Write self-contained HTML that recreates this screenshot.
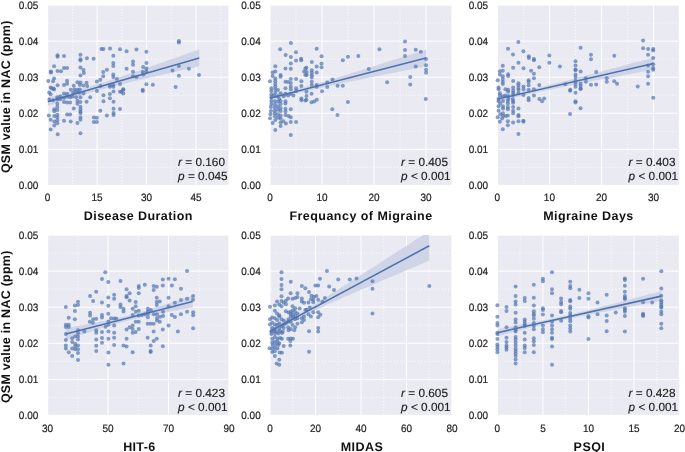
<!DOCTYPE html>
<html><head><meta charset="utf-8"><style>
html,body{margin:0;padding:0;background:#fff;width:685px;height:452px;overflow:hidden}
svg{display:block;text-rendering:geometricPrecision;will-change:transform}
.t{font-family:"Liberation Sans",sans-serif;font-size:10.0px;fill:#222;stroke:#222;stroke-width:0.18px}
.a{font-family:"Liberation Sans",sans-serif;font-size:11.8px;fill:#222;stroke:#222;stroke-width:0.15px}
.l{font-family:"Liberation Sans",sans-serif;font-size:12.5px;font-weight:bold;fill:#111}
</style></head><body>
<svg width="685" height="452" viewBox="0 0 685 452"><defs><clipPath id="c0"><rect x="47.6" y="5" width="181.4" height="180.5"/></clipPath><clipPath id="c1"><rect x="270" y="5" width="182" height="180.5"/></clipPath><clipPath id="c2"><rect x="497.4" y="5" width="182.1" height="180.5"/></clipPath><clipPath id="c3"><rect x="47.6" y="235" width="181.4" height="180.5"/></clipPath><clipPath id="c4"><rect x="270" y="235" width="182" height="180.5"/></clipPath><clipPath id="c5"><rect x="497.4" y="235" width="182.1" height="180.5"/></clipPath></defs><rect x="48.2" y="5.6" width="180.2" height="179.3" fill="#EAEAF2"/><path d="M72.34 6V184.5 M121.81 6V184.5 M171.28 6V184.5 M220.75 6V184.5 M48.6 167.45H228 M48.6 131.35H228 M48.6 95.25H228 M48.6 59.15H228 M48.6 23.05H228" stroke="#fff" stroke-width="0.8" stroke-dasharray="1 2" fill="none"/><path d="M97.07 5.6V184.9 M146.55 5.6V184.9 M196.02 5.6V184.9 M48.2 149.4H228.4 M48.2 113.3H228.4 M48.2 77.2H228.4 M48.2 41.1H228.4" stroke="#fff" stroke-width="1" fill="none"/><path d="M47.6 97.55 L51.39 96.63 L55.19 95.69 L58.98 94.74 L62.77 93.78 L66.56 92.81 L70.36 91.81 L74.15 90.8 L77.94 89.77 L81.74 88.72 L85.53 87.64 L89.32 86.54 L93.11 85.42 L96.91 84.28 L100.7 83.12 L104.49 81.93 L108.29 80.73 L112.08 79.51 L115.87 78.28 L119.67 77.03 L123.46 75.77 L127.25 74.5 L131.04 73.22 L134.84 71.93 L138.63 70.64 L142.42 69.34 L146.22 68.03 L150.01 66.72 L153.8 65.4 L157.59 64.08 L161.39 62.76 L165.18 61.43 L168.97 60.1 L172.77 58.77 L176.56 57.44 L180.35 56.1 L184.14 54.76 L187.94 53.42 L191.73 52.08 L195.52 50.74 L199.32 49.4 L199.32 66.38 L195.52 67.23 L191.73 68.08 L187.94 68.93 L184.14 69.78 L180.35 70.64 L176.56 71.49 L172.77 72.35 L168.97 73.21 L165.18 74.08 L161.39 74.94 L157.59 75.81 L153.8 76.69 L150.01 77.56 L146.22 78.44 L142.42 79.33 L138.63 80.22 L134.84 81.12 L131.04 82.03 L127.25 82.94 L123.46 83.86 L119.67 84.8 L115.87 85.74 L112.08 86.7 L108.29 87.68 L104.49 88.67 L100.7 89.68 L96.91 90.71 L93.11 91.76 L89.32 92.83 L85.53 93.92 L81.74 95.04 L77.94 96.18 L74.15 97.34 L70.36 98.52 L66.56 99.72 L62.77 100.94 L58.98 102.17 L55.19 103.42 L51.39 104.68 L47.6 105.94Z" fill="#EAEAF2" clip-path="url(#c0)"/><g fill="#4C72B0" fill-opacity="0.68"><circle cx="57.59" cy="55.22" r="2"/><circle cx="57.59" cy="56.66" r="2"/><circle cx="64.03" cy="56.05" r="2"/><circle cx="80.46" cy="54.71" r="2"/><circle cx="80.46" cy="59.33" r="2"/><circle cx="80.46" cy="60.56" r="2"/><circle cx="86.91" cy="58.36" r="2"/><circle cx="93.6" cy="58.72" r="2"/><circle cx="101.51" cy="49.01" r="2"/><circle cx="54.06" cy="66.15" r="2"/><circle cx="50.89" cy="71.5" r="2"/><circle cx="50.89" cy="72.47" r="2"/><circle cx="57.59" cy="71.03" r="2"/><circle cx="60.99" cy="71.24" r="2"/><circle cx="64.03" cy="67.96" r="2"/><circle cx="67.08" cy="67.96" r="2"/><circle cx="80.46" cy="67.6" r="2"/><circle cx="83.5" cy="70.05" r="2"/><circle cx="83.87" cy="72.98" r="2"/><circle cx="80.46" cy="75.39" r="2"/><circle cx="54.06" cy="78.57" r="2"/><circle cx="53.08" cy="81.24" r="2"/><circle cx="48.22" cy="80.99" r="2"/><circle cx="67.08" cy="80.63" r="2"/><circle cx="77.42" cy="82.22" r="2"/><circle cx="80.46" cy="82.47" r="2"/><circle cx="86.54" cy="82.69" r="2"/><circle cx="96.89" cy="81.5" r="2"/><circle cx="100.3" cy="79.76" r="2"/><circle cx="57.59" cy="85.14" r="2"/><circle cx="64.03" cy="84.89" r="2"/><circle cx="67.08" cy="83.66" r="2"/><circle cx="50.65" cy="87.56" r="2"/><circle cx="53.69" cy="88.54" r="2"/><circle cx="73.77" cy="85.86" r="2"/><circle cx="79.85" cy="84.89" r="2"/><circle cx="83.5" cy="85.5" r="2"/><circle cx="87.16" cy="86.12" r="2"/><circle cx="100.54" cy="86.12" r="2"/><circle cx="103.46" cy="49.01" r="2"/><circle cx="110.03" cy="48.39" r="2"/><circle cx="120.01" cy="49.22" r="2"/><circle cx="126.58" cy="51.17" r="2"/><circle cx="136.44" cy="49.62" r="2"/><circle cx="146.41" cy="51.79" r="2"/><circle cx="113.32" cy="55.68" r="2"/><circle cx="133.03" cy="61.53" r="2"/><circle cx="133.03" cy="64.82" r="2"/><circle cx="113.32" cy="62.98" r="2"/><circle cx="113.32" cy="66.05" r="2"/><circle cx="146.41" cy="62.98" r="2"/><circle cx="106.87" cy="69.69" r="2"/><circle cx="126.58" cy="68.82" r="2"/><circle cx="143.13" cy="67.02" r="2"/><circle cx="146.41" cy="68.46" r="2"/><circle cx="103.22" cy="72.11" r="2"/><circle cx="103.22" cy="76.37" r="2"/><circle cx="113.32" cy="74.53" r="2"/><circle cx="113.32" cy="76.98" r="2"/><circle cx="133.03" cy="71.75" r="2"/><circle cx="142.76" cy="72.11" r="2"/><circle cx="146.41" cy="71.5" r="2"/><circle cx="116.85" cy="79.04" r="2"/><circle cx="133.03" cy="76.37" r="2"/><circle cx="136.44" cy="76.98" r="2"/><circle cx="143.37" cy="74.53" r="2"/><circle cx="120.01" cy="83.91" r="2"/><circle cx="109.91" cy="84.89" r="2"/><circle cx="109.91" cy="86.73" r="2"/><circle cx="113.32" cy="84.89" r="2"/><circle cx="113.32" cy="86.73" r="2"/><circle cx="146.41" cy="84.28" r="2"/><circle cx="152.86" cy="84.64" r="2"/><circle cx="123.29" cy="89.15" r="2"/><circle cx="142.76" cy="89.76" r="2"/><circle cx="178.9" cy="41.1" r="2"/><circle cx="178.9" cy="42.54" r="2"/><circle cx="178.9" cy="66.05" r="2"/><circle cx="172.57" cy="70.52" r="2"/><circle cx="188.88" cy="68.82" r="2"/><circle cx="178.9" cy="75.76" r="2"/><circle cx="198.98" cy="74.93" r="2"/><circle cx="175.62" cy="86.95" r="2"/><circle cx="49.19" cy="92.61" r="2"/><circle cx="50.65" cy="94.31" r="2"/><circle cx="54.06" cy="89.47" r="2"/><circle cx="51.87" cy="88.61" r="2"/><circle cx="64.03" cy="93.48" r="2"/><circle cx="67.08" cy="93.84" r="2"/><circle cx="70.73" cy="89.84" r="2"/><circle cx="74.38" cy="89.47" r="2"/><circle cx="77.42" cy="89.84" r="2"/><circle cx="79.85" cy="89.47" r="2"/><circle cx="73.16" cy="92.87" r="2"/><circle cx="76.21" cy="92.25" r="2"/><circle cx="79.25" cy="92.87" r="2"/><circle cx="83.5" cy="93.48" r="2"/><circle cx="96.89" cy="91.03" r="2"/><circle cx="57.34" cy="97.13" r="2"/><circle cx="60.38" cy="96.51" r="2"/><circle cx="64.03" cy="97.74" r="2"/><circle cx="67.08" cy="96.51" r="2"/><circle cx="70.12" cy="97.13" r="2"/><circle cx="72.55" cy="96.51" r="2"/><circle cx="76.21" cy="97.13" r="2"/><circle cx="80.46" cy="97.13" r="2"/><circle cx="90.2" cy="97.13" r="2"/><circle cx="49.43" cy="99.55" r="2"/><circle cx="53.08" cy="100.16" r="2"/><circle cx="57.34" cy="99.55" r="2"/><circle cx="60.38" cy="98.97" r="2"/><circle cx="64.03" cy="102" r="2"/><circle cx="67.08" cy="102.61" r="2"/><circle cx="70.12" cy="102.61" r="2"/><circle cx="77.42" cy="100.77" r="2"/><circle cx="77.42" cy="103.81" r="2"/><circle cx="80.46" cy="102" r="2"/><circle cx="86.54" cy="101.64" r="2"/><circle cx="57.34" cy="103.81" r="2"/><circle cx="57.34" cy="106.87" r="2"/><circle cx="54.3" cy="109.29" r="2"/><circle cx="54.3" cy="111.13" r="2"/><circle cx="57.34" cy="109.91" r="2"/><circle cx="73.77" cy="108.43" r="2"/><circle cx="80.46" cy="106.87" r="2"/><circle cx="80.46" cy="109.29" r="2"/><circle cx="80.46" cy="111.71" r="2"/><circle cx="80.46" cy="112.94" r="2"/><circle cx="100.3" cy="110.74" r="2"/><circle cx="67.08" cy="114.53" r="2"/><circle cx="70.12" cy="114.53" r="2"/><circle cx="48.82" cy="115.39" r="2"/><circle cx="54.3" cy="115.97" r="2"/><circle cx="57.34" cy="114.78" r="2"/><circle cx="57.34" cy="117.2" r="2"/><circle cx="80.46" cy="117.2" r="2"/><circle cx="80.46" cy="119.65" r="2"/><circle cx="93.85" cy="117.45" r="2"/><circle cx="96.89" cy="117.81" r="2"/><circle cx="50.65" cy="119.87" r="2"/><circle cx="54.3" cy="121.46" r="2"/><circle cx="57.34" cy="120.23" r="2"/><circle cx="57.34" cy="123.3" r="2"/><circle cx="64.03" cy="120.63" r="2"/><circle cx="70.73" cy="121.46" r="2"/><circle cx="77.42" cy="122.94" r="2"/><circle cx="93.85" cy="122.07" r="2"/><circle cx="96.89" cy="122.07" r="2"/><circle cx="54.3" cy="125.47" r="2"/><circle cx="50.65" cy="129.62" r="2"/><circle cx="57.71" cy="134.24" r="2"/><circle cx="80.46" cy="133.26" r="2"/><circle cx="113.56" cy="91.42" r="2"/><circle cx="120.01" cy="91.64" r="2"/><circle cx="123.29" cy="89.84" r="2"/><circle cx="123.29" cy="93.48" r="2"/><circle cx="121.47" cy="91.64" r="2"/><circle cx="103.46" cy="95.29" r="2"/><circle cx="109.91" cy="94.09" r="2"/><circle cx="109.91" cy="98.35" r="2"/><circle cx="103.46" cy="101.13" r="2"/><circle cx="113.56" cy="101.64" r="2"/><circle cx="142.76" cy="91.03" r="2"/><circle cx="113.56" cy="108.68" r="2"/><circle cx="120.01" cy="108.93" r="2"/><circle cx="113.56" cy="112.94" r="2"/><circle cx="113.56" cy="115" r="2"/><circle cx="106.87" cy="115.39" r="2"/></g><path d="M47.6 97.55 L51.39 96.63 L55.19 95.69 L58.98 94.74 L62.77 93.78 L66.56 92.81 L70.36 91.81 L74.15 90.8 L77.94 89.77 L81.74 88.72 L85.53 87.64 L89.32 86.54 L93.11 85.42 L96.91 84.28 L100.7 83.12 L104.49 81.93 L108.29 80.73 L112.08 79.51 L115.87 78.28 L119.67 77.03 L123.46 75.77 L127.25 74.5 L131.04 73.22 L134.84 71.93 L138.63 70.64 L142.42 69.34 L146.22 68.03 L150.01 66.72 L153.8 65.4 L157.59 64.08 L161.39 62.76 L165.18 61.43 L168.97 60.1 L172.77 58.77 L176.56 57.44 L180.35 56.1 L184.14 54.76 L187.94 53.42 L191.73 52.08 L195.52 50.74 L199.32 49.4 L199.32 66.38 L195.52 67.23 L191.73 68.08 L187.94 68.93 L184.14 69.78 L180.35 70.64 L176.56 71.49 L172.77 72.35 L168.97 73.21 L165.18 74.08 L161.39 74.94 L157.59 75.81 L153.8 76.69 L150.01 77.56 L146.22 78.44 L142.42 79.33 L138.63 80.22 L134.84 81.12 L131.04 82.03 L127.25 82.94 L123.46 83.86 L119.67 84.8 L115.87 85.74 L112.08 86.7 L108.29 87.68 L104.49 88.67 L100.7 89.68 L96.91 90.71 L93.11 91.76 L89.32 92.83 L85.53 93.92 L81.74 95.04 L77.94 96.18 L74.15 97.34 L70.36 98.52 L66.56 99.72 L62.77 100.94 L58.98 102.17 L55.19 103.42 L51.39 104.68 L47.6 105.94Z" fill="#4C72B0" fill-opacity="0.17" clip-path="url(#c0)"/><path d="M47.6 101.75L199.32 57.89" stroke="#4C72B0" stroke-width="1.55" fill="none" clip-path="url(#c0)"/><text transform="translate(38.3 189.3) scale(1 1.06)" text-anchor="end" class="t">0.00</text><text transform="translate(38.3 153.2) scale(1 1.06)" text-anchor="end" class="t">0.01</text><text transform="translate(38.3 117.1) scale(1 1.06)" text-anchor="end" class="t">0.02</text><text transform="translate(38.3 81) scale(1 1.06)" text-anchor="end" class="t">0.03</text><text transform="translate(38.3 44.9) scale(1 1.06)" text-anchor="end" class="t">0.04</text><text transform="translate(38.3 8.8) scale(1 1.06)" text-anchor="end" class="t">0.05</text><text transform="translate(47.6 201.4) scale(1 1.06)" text-anchor="middle" class="t">0</text><text transform="translate(97.07 201.4) scale(1 1.06)" text-anchor="middle" class="t">15</text><text transform="translate(146.55 201.4) scale(1 1.06)" text-anchor="middle" class="t">30</text><text transform="translate(196.02 201.4) scale(1 1.06)" text-anchor="middle" class="t">45</text><text x="138.3" y="220" text-anchor="middle" class="l" letter-spacing="0.43">Disease Duration</text><text x="178.1" y="165.7" class="a"><tspan font-style="italic">r</tspan> = 0.160</text><text x="178.1" y="179.5" class="a"><tspan font-style="italic">p</tspan> = 0.045</text><rect x="270.6" y="5.6" width="180.8" height="179.3" fill="#EAEAF2"/><path d="M296 6V184.5 M348 6V184.5 M400 6V184.5 M271 167.45H451 M271 131.35H451 M271 95.25H451 M271 59.15H451 M271 23.05H451" stroke="#fff" stroke-width="0.8" stroke-dasharray="1 2" fill="none"/><path d="M322 5.6V184.9 M374 5.6V184.9 M426 5.6V184.9 M270.6 149.4H451.4 M270.6 113.3H451.4 M270.6 77.2H451.4 M270.6 41.1H451.4" stroke="#fff" stroke-width="1" fill="none"/><path d="M270 95.6 L273.9 94.72 L277.8 93.83 L281.7 92.92 L285.6 91.99 L289.5 91.04 L293.4 90.06 L297.3 89.06 L301.2 88.03 L305.1 86.98 L309 85.9 L312.9 84.8 L316.8 83.68 L320.7 82.54 L324.6 81.39 L328.5 80.22 L332.4 79.05 L336.3 77.87 L340.2 76.67 L344.1 75.48 L348 74.27 L351.9 73.07 L355.8 71.85 L359.7 70.64 L363.6 69.42 L367.5 68.2 L371.4 66.97 L375.3 65.75 L379.2 64.52 L383.1 63.29 L387 62.06 L390.9 60.83 L394.8 59.59 L398.7 58.36 L402.6 57.12 L406.5 55.89 L410.4 54.65 L414.3 53.41 L418.2 52.18 L422.1 50.94 L426 49.7 L426 66.29 L422.1 67.07 L418.2 67.85 L414.3 68.62 L410.4 69.4 L406.5 70.18 L402.6 70.96 L398.7 71.74 L394.8 72.53 L390.9 73.31 L387 74.09 L383.1 74.88 L379.2 75.66 L375.3 76.45 L371.4 77.24 L367.5 78.04 L363.6 78.83 L359.7 79.63 L355.8 80.43 L351.9 81.23 L348 82.04 L344.1 82.85 L340.2 83.67 L336.3 84.5 L332.4 85.33 L328.5 86.17 L324.6 87.02 L320.7 87.89 L316.8 88.77 L312.9 89.66 L309 90.58 L305.1 91.52 L301.2 92.48 L297.3 93.46 L293.4 94.48 L289.5 95.51 L285.6 96.58 L281.7 97.66 L277.8 98.77 L273.9 99.9 L270 101.04Z" fill="#EAEAF2" clip-path="url(#c1)"/><g fill="#4C72B0" fill-opacity="0.68"><circle cx="290.88" cy="42.91" r="2"/><circle cx="280.17" cy="49.37" r="2"/><circle cx="285.64" cy="55.07" r="2"/><circle cx="295.98" cy="52.29" r="2"/><circle cx="290.88" cy="56.91" r="2"/><circle cx="301.1" cy="58.72" r="2"/><circle cx="296.09" cy="60.45" r="2"/><circle cx="301.22" cy="60.16" r="2"/><circle cx="290.78" cy="63.55" r="2"/><circle cx="275.29" cy="66.19" r="2"/><circle cx="285.47" cy="68.39" r="2"/><circle cx="290.78" cy="68.86" r="2"/><circle cx="272.64" cy="72.4" r="2"/><circle cx="275.29" cy="71.5" r="2"/><circle cx="280.6" cy="75.03" r="2"/><circle cx="280.6" cy="76.8" r="2"/><circle cx="272.64" cy="75.94" r="2"/><circle cx="304.05" cy="71.5" r="2"/><circle cx="305.38" cy="68.39" r="2"/><circle cx="305.38" cy="75.03" r="2"/><circle cx="269.98" cy="81.24" r="2"/><circle cx="275.29" cy="78.57" r="2"/><circle cx="275.29" cy="81.24" r="2"/><circle cx="275.29" cy="83.88" r="2"/><circle cx="290.78" cy="79.04" r="2"/><circle cx="296.09" cy="79.04" r="2"/><circle cx="301.4" cy="81.24" r="2"/><circle cx="285.47" cy="81.68" r="2"/><circle cx="288.12" cy="82.11" r="2"/><circle cx="290.78" cy="83.01" r="2"/><circle cx="301.4" cy="86.12" r="2"/><circle cx="271.31" cy="88.32" r="2"/><circle cx="271.31" cy="90.99" r="2"/><circle cx="275.29" cy="86.55" r="2"/><circle cx="275.29" cy="89.22" r="2"/><circle cx="277.95" cy="90.09" r="2"/><circle cx="280.6" cy="93.19" r="2"/><circle cx="285.47" cy="88.32" r="2"/><circle cx="290.78" cy="86.55" r="2"/><circle cx="290.78" cy="89.22" r="2"/><circle cx="296.09" cy="88.32" r="2"/><circle cx="296.09" cy="90.99" r="2"/><circle cx="271.31" cy="94.53" r="2"/><circle cx="271.31" cy="97.16" r="2"/><circle cx="273.96" cy="95.39" r="2"/><circle cx="275.29" cy="92.76" r="2"/><circle cx="277.5" cy="96.3" r="2"/><circle cx="283.7" cy="96.3" r="2"/><circle cx="285.47" cy="93.63" r="2"/><circle cx="288.12" cy="95.39" r="2"/><circle cx="290.78" cy="93.63" r="2"/><circle cx="293.43" cy="95.39" r="2"/><circle cx="301.4" cy="98.5" r="2"/><circle cx="279.28" cy="98.93" r="2"/><circle cx="271.31" cy="100.88" r="2"/><circle cx="271.31" cy="103.99" r="2"/><circle cx="270.87" cy="107.09" r="2"/><circle cx="270.87" cy="111.06" r="2"/><circle cx="270.43" cy="114.17" r="2"/><circle cx="269.98" cy="118.14" r="2"/><circle cx="272.64" cy="123.01" r="2"/><circle cx="274.85" cy="101.31" r="2"/><circle cx="274.85" cy="104.42" r="2"/><circle cx="274.85" cy="107.52" r="2"/><circle cx="274.85" cy="110.63" r="2"/><circle cx="274.85" cy="113.26" r="2"/><circle cx="274.85" cy="116.37" r="2"/><circle cx="275.29" cy="119.91" r="2"/><circle cx="277.95" cy="101.78" r="2"/><circle cx="277.95" cy="106.19" r="2"/><circle cx="277.95" cy="109.73" r="2"/><circle cx="277.95" cy="114.17" r="2"/><circle cx="277.95" cy="117.7" r="2"/><circle cx="280.6" cy="100.88" r="2"/><circle cx="280.6" cy="103.99" r="2"/><circle cx="280.6" cy="107.96" r="2"/><circle cx="280.6" cy="111.06" r="2"/><circle cx="280.6" cy="115.5" r="2"/><circle cx="280.6" cy="118.57" r="2"/><circle cx="280.6" cy="122.58" r="2"/><circle cx="280.6" cy="126.12" r="2"/><circle cx="285.47" cy="101.31" r="2"/><circle cx="285.47" cy="103.55" r="2"/><circle cx="285.47" cy="108.86" r="2"/><circle cx="285.47" cy="111.5" r="2"/><circle cx="285.47" cy="115.03" r="2"/><circle cx="285.91" cy="123.44" r="2"/><circle cx="288.56" cy="115.94" r="2"/><circle cx="290.78" cy="109.29" r="2"/><circle cx="290.78" cy="117.27" r="2"/><circle cx="290.78" cy="122.11" r="2"/><circle cx="296.09" cy="122.11" r="2"/><circle cx="283.25" cy="121.24" r="2"/><circle cx="275.29" cy="130.09" r="2"/><circle cx="290.78" cy="134.96" r="2"/><circle cx="301.4" cy="100.16" r="2"/><circle cx="305.38" cy="100.45" r="2"/><circle cx="316.67" cy="48.64" r="2"/><circle cx="321.54" cy="56.3" r="2"/><circle cx="311.8" cy="62" r="2"/><circle cx="321.54" cy="63.59" r="2"/><circle cx="321.54" cy="67.24" r="2"/><circle cx="316.67" cy="66.41" r="2"/><circle cx="306.45" cy="67.85" r="2"/><circle cx="306.7" cy="72.11" r="2"/><circle cx="306.7" cy="74.93" r="2"/><circle cx="311.8" cy="70.3" r="2"/><circle cx="311.8" cy="72.72" r="2"/><circle cx="311.8" cy="75.14" r="2"/><circle cx="311.8" cy="77.6" r="2"/><circle cx="316.67" cy="72.47" r="2"/><circle cx="311.8" cy="81.86" r="2"/><circle cx="311.8" cy="84.89" r="2"/><circle cx="316.67" cy="84.89" r="2"/><circle cx="316.67" cy="86.73" r="2"/><circle cx="306.45" cy="91.82" r="2"/><circle cx="306.45" cy="96.08" r="2"/><circle cx="306.45" cy="99.73" r="2"/><circle cx="311.56" cy="93.66" r="2"/><circle cx="311.56" cy="102.18" r="2"/><circle cx="314.24" cy="101.57" r="2"/><circle cx="316.79" cy="99.73" r="2"/><circle cx="322.03" cy="91.21" r="2"/><circle cx="342.84" cy="60.31" r="2"/><circle cx="347.94" cy="56.66" r="2"/><circle cx="358.29" cy="55.94" r="2"/><circle cx="368.75" cy="69.08" r="2"/><circle cx="332.49" cy="79.4" r="2"/><circle cx="327.26" cy="82.47" r="2"/><circle cx="327.26" cy="87.09" r="2"/><circle cx="337.6" cy="85.86" r="2"/><circle cx="342.84" cy="85.86" r="2"/><circle cx="379.46" cy="49.22" r="2"/><circle cx="405.01" cy="41.46" r="2"/><circle cx="405.01" cy="49.98" r="2"/><circle cx="405.01" cy="55.94" r="2"/><circle cx="415.72" cy="49.84" r="2"/><circle cx="420.83" cy="51.68" r="2"/><circle cx="426.06" cy="58.97" r="2"/><circle cx="426.06" cy="65.18" r="2"/><circle cx="426.06" cy="69.69" r="2"/><circle cx="426.06" cy="72.72" r="2"/><circle cx="415.72" cy="66.41" r="2"/><circle cx="410.24" cy="76.98" r="2"/><circle cx="387.12" cy="82.22" r="2"/><circle cx="410.24" cy="84.53" r="2"/><circle cx="347.89" cy="101.96" r="2"/><circle cx="332.31" cy="109.37" r="2"/><circle cx="337.45" cy="114.96" r="2"/><circle cx="425.77" cy="98.93" r="2"/></g><path d="M270 95.6 L273.9 94.72 L277.8 93.83 L281.7 92.92 L285.6 91.99 L289.5 91.04 L293.4 90.06 L297.3 89.06 L301.2 88.03 L305.1 86.98 L309 85.9 L312.9 84.8 L316.8 83.68 L320.7 82.54 L324.6 81.39 L328.5 80.22 L332.4 79.05 L336.3 77.87 L340.2 76.67 L344.1 75.48 L348 74.27 L351.9 73.07 L355.8 71.85 L359.7 70.64 L363.6 69.42 L367.5 68.2 L371.4 66.97 L375.3 65.75 L379.2 64.52 L383.1 63.29 L387 62.06 L390.9 60.83 L394.8 59.59 L398.7 58.36 L402.6 57.12 L406.5 55.89 L410.4 54.65 L414.3 53.41 L418.2 52.18 L422.1 50.94 L426 49.7 L426 66.29 L422.1 67.07 L418.2 67.85 L414.3 68.62 L410.4 69.4 L406.5 70.18 L402.6 70.96 L398.7 71.74 L394.8 72.53 L390.9 73.31 L387 74.09 L383.1 74.88 L379.2 75.66 L375.3 76.45 L371.4 77.24 L367.5 78.04 L363.6 78.83 L359.7 79.63 L355.8 80.43 L351.9 81.23 L348 82.04 L344.1 82.85 L340.2 83.67 L336.3 84.5 L332.4 85.33 L328.5 86.17 L324.6 87.02 L320.7 87.89 L316.8 88.77 L312.9 89.66 L309 90.58 L305.1 91.52 L301.2 92.48 L297.3 93.46 L293.4 94.48 L289.5 95.51 L285.6 96.58 L281.7 97.66 L277.8 98.77 L273.9 99.9 L270 101.04Z" fill="#4C72B0" fill-opacity="0.17" clip-path="url(#c1)"/><path d="M270 98.32L426 57.99" stroke="#4C72B0" stroke-width="1.55" fill="none" clip-path="url(#c1)"/><text transform="translate(260.7 189.3) scale(1 1.06)" text-anchor="end" class="t">0.00</text><text transform="translate(260.7 153.2) scale(1 1.06)" text-anchor="end" class="t">0.01</text><text transform="translate(260.7 117.1) scale(1 1.06)" text-anchor="end" class="t">0.02</text><text transform="translate(260.7 81) scale(1 1.06)" text-anchor="end" class="t">0.03</text><text transform="translate(260.7 44.9) scale(1 1.06)" text-anchor="end" class="t">0.04</text><text transform="translate(260.7 8.8) scale(1 1.06)" text-anchor="end" class="t">0.05</text><text transform="translate(270 201.4) scale(1 1.06)" text-anchor="middle" class="t">0</text><text transform="translate(322 201.4) scale(1 1.06)" text-anchor="middle" class="t">10</text><text transform="translate(374 201.4) scale(1 1.06)" text-anchor="middle" class="t">20</text><text transform="translate(426 201.4) scale(1 1.06)" text-anchor="middle" class="t">30</text><text x="361" y="220" text-anchor="middle" class="l" letter-spacing="0.47">Frequancy of Migraine</text><text x="401.1" y="165.7" class="a"><tspan font-style="italic">r</tspan> = 0.405</text><text x="401.1" y="179.5" class="a"><tspan font-style="italic">p</tspan> &lt; 0.001</text><rect x="498" y="5.6" width="180.9" height="179.3" fill="#EAEAF2"/><path d="M523.41 6V184.5 M575.44 6V184.5 M627.47 6V184.5 M498.4 167.45H678.5 M498.4 131.35H678.5 M498.4 95.25H678.5 M498.4 59.15H678.5 M498.4 23.05H678.5" stroke="#fff" stroke-width="0.8" stroke-dasharray="1 2" fill="none"/><path d="M549.43 5.6V184.9 M601.46 5.6V184.9 M653.49 5.6V184.9 M498 149.4H678.9 M498 113.3H678.9 M498 77.2H678.9 M498 41.1H678.9" stroke="#fff" stroke-width="1" fill="none"/><path d="M497.4 96.51 L501.3 95.71 L505.2 94.9 L509.11 94.08 L513.01 93.25 L516.91 92.41 L520.81 91.56 L524.72 90.69 L528.62 89.81 L532.52 88.91 L536.42 88 L540.32 87.08 L544.23 86.15 L548.13 85.2 L552.03 84.24 L555.93 83.27 L559.83 82.3 L563.74 81.31 L567.64 80.32 L571.54 79.32 L575.44 78.31 L579.35 77.3 L583.25 76.29 L587.15 75.27 L591.05 74.24 L594.95 73.21 L598.86 72.18 L602.76 71.15 L606.66 70.12 L610.56 69.08 L614.46 68.04 L618.37 67 L622.27 65.96 L626.17 64.92 L630.07 63.87 L633.98 62.82 L637.88 61.78 L641.78 60.73 L645.68 59.68 L649.58 58.63 L653.49 57.58 L653.49 69.6 L649.58 70.33 L645.68 71.05 L641.78 71.78 L637.88 72.51 L633.98 73.24 L630.07 73.97 L626.17 74.7 L622.27 75.43 L618.37 76.16 L614.46 76.9 L610.56 77.64 L606.66 78.38 L602.76 79.12 L598.86 79.86 L594.95 80.61 L591.05 81.36 L587.15 82.11 L583.25 82.87 L579.35 83.63 L575.44 84.39 L571.54 85.16 L567.64 85.94 L563.74 86.72 L559.83 87.51 L555.93 88.31 L552.03 89.12 L548.13 89.94 L544.23 90.76 L540.32 91.61 L536.42 92.46 L532.52 93.33 L528.62 94.21 L524.72 95.1 L520.81 96.01 L516.91 96.93 L513.01 97.87 L509.11 98.82 L505.2 99.77 L501.3 100.74 L497.4 101.72Z" fill="#EAEAF2" clip-path="url(#c2)"/><g fill="#4C72B0" fill-opacity="0.68"><circle cx="518.36" cy="41.93" r="2"/><circle cx="508.02" cy="48.64" r="2"/><circle cx="513.01" cy="54.46" r="2"/><circle cx="523.35" cy="51.17" r="2"/><circle cx="528.83" cy="56.3" r="2"/><circle cx="528.83" cy="57.89" r="2"/><circle cx="533.94" cy="59.08" r="2"/><circle cx="518.45" cy="62.65" r="2"/><circle cx="502.79" cy="65.76" r="2"/><circle cx="513.14" cy="67.78" r="2"/><circle cx="523.5" cy="68.25" r="2"/><circle cx="533.94" cy="60.16" r="2"/><circle cx="531.1" cy="70.81" r="2"/><circle cx="533.94" cy="73.73" r="2"/><circle cx="533.94" cy="78.14" r="2"/><circle cx="499.87" cy="71.32" r="2"/><circle cx="502.79" cy="70.63" r="2"/><circle cx="499.87" cy="74.6" r="2"/><circle cx="502.79" cy="76.37" r="2"/><circle cx="508.1" cy="74.17" r="2"/><circle cx="508.1" cy="75.94" r="2"/><circle cx="497.65" cy="80.16" r="2"/><circle cx="502.79" cy="79.04" r="2"/><circle cx="502.79" cy="81.68" r="2"/><circle cx="502.79" cy="83.88" r="2"/><circle cx="513.14" cy="81.06" r="2"/><circle cx="518.45" cy="83.19" r="2"/><circle cx="518.45" cy="85.21" r="2"/><circle cx="528.63" cy="80.16" r="2"/><circle cx="528.63" cy="82.11" r="2"/><circle cx="528.63" cy="85.21" r="2"/><circle cx="498.54" cy="87.42" r="2"/><circle cx="498.54" cy="89.22" r="2"/><circle cx="505.44" cy="89.22" r="2"/><circle cx="508.1" cy="89.65" r="2"/><circle cx="508.1" cy="91.86" r="2"/><circle cx="513.14" cy="87.42" r="2"/><circle cx="513.14" cy="90.52" r="2"/><circle cx="518.45" cy="87.89" r="2"/><circle cx="518.45" cy="90.09" r="2"/><circle cx="523.5" cy="86.55" r="2"/><circle cx="523.5" cy="89.22" r="2"/><circle cx="528.63" cy="89.65" r="2"/><circle cx="533.94" cy="89.22" r="2"/><circle cx="499.87" cy="93.19" r="2"/><circle cx="499.87" cy="95.39" r="2"/><circle cx="502.97" cy="96.3" r="2"/><circle cx="505.44" cy="95.39" r="2"/><circle cx="508.27" cy="96.3" r="2"/><circle cx="513.14" cy="92.76" r="2"/><circle cx="513.14" cy="94.96" r="2"/><circle cx="518.45" cy="93.19" r="2"/><circle cx="523.5" cy="94.96" r="2"/><circle cx="533.94" cy="95.39" r="2"/><circle cx="498.54" cy="98.93" r="2"/><circle cx="508.27" cy="98.93" r="2"/><circle cx="528.63" cy="98.07" r="2"/><circle cx="512.7" cy="98.93" r="2"/><circle cx="498.54" cy="101.31" r="2"/><circle cx="498.54" cy="106.19" r="2"/><circle cx="498.54" cy="110.63" r="2"/><circle cx="497.65" cy="117.27" r="2"/><circle cx="499.87" cy="121.68" r="2"/><circle cx="502.97" cy="100.88" r="2"/><circle cx="502.97" cy="106.19" r="2"/><circle cx="502.97" cy="108.39" r="2"/><circle cx="502.97" cy="113.26" r="2"/><circle cx="502.97" cy="115.94" r="2"/><circle cx="502.08" cy="118.57" r="2"/><circle cx="502.79" cy="129.22" r="2"/><circle cx="507.83" cy="100.88" r="2"/><circle cx="507.83" cy="103.55" r="2"/><circle cx="507.83" cy="107.09" r="2"/><circle cx="507.83" cy="109.29" r="2"/><circle cx="507.83" cy="115.5" r="2"/><circle cx="507.83" cy="121.24" r="2"/><circle cx="507.83" cy="125.21" r="2"/><circle cx="513.14" cy="100.88" r="2"/><circle cx="513.14" cy="102.65" r="2"/><circle cx="513.14" cy="107.09" r="2"/><circle cx="513.14" cy="110.63" r="2"/><circle cx="513.14" cy="113.26" r="2"/><circle cx="513.14" cy="122.58" r="2"/><circle cx="518.45" cy="108.39" r="2"/><circle cx="518.45" cy="115.03" r="2"/><circle cx="518.45" cy="116.37" r="2"/><circle cx="518.45" cy="121.24" r="2"/><circle cx="523.32" cy="120.81" r="2"/><circle cx="523.5" cy="121.68" r="2"/><circle cx="518.45" cy="134.06" r="2"/><circle cx="528.63" cy="100.16" r="2"/><circle cx="500.31" cy="103.55" r="2"/><circle cx="500.31" cy="114.17" r="2"/><circle cx="505.62" cy="115.94" r="2"/><circle cx="539.38" cy="98.93" r="2"/><circle cx="542.01" cy="101.13" r="2"/><circle cx="544.19" cy="98.5" r="2"/><circle cx="570.04" cy="90.63" r="2"/><circle cx="575.51" cy="92.83" r="2"/><circle cx="580.55" cy="89.08" r="2"/><circle cx="575.51" cy="101.13" r="2"/><circle cx="575.51" cy="102.47" r="2"/><circle cx="580.55" cy="108.35" r="2"/><circle cx="570.04" cy="114.06" r="2"/><circle cx="653.25" cy="97.85" r="2"/><circle cx="549.36" cy="55.43" r="2"/><circle cx="549.36" cy="62.76" r="2"/><circle cx="539.26" cy="67.24" r="2"/><circle cx="559.94" cy="66.62" r="2"/><circle cx="539.26" cy="84.89" r="2"/><circle cx="580.63" cy="47.78" r="2"/><circle cx="590.97" cy="54.82" r="2"/><circle cx="590.97" cy="59.33" r="2"/><circle cx="575.52" cy="61.17" r="2"/><circle cx="575.52" cy="65.43" r="2"/><circle cx="575.52" cy="69.44" r="2"/><circle cx="575.52" cy="70.3" r="2"/><circle cx="580.63" cy="71.5" r="2"/><circle cx="575.52" cy="74.53" r="2"/><circle cx="575.52" cy="76.98" r="2"/><circle cx="575.52" cy="80.63" r="2"/><circle cx="575.52" cy="83.66" r="2"/><circle cx="575.52" cy="86.73" r="2"/><circle cx="580.63" cy="83.66" r="2"/><circle cx="580.63" cy="86.12" r="2"/><circle cx="580.63" cy="88.54" r="2"/><circle cx="585.86" cy="78.21" r="2"/><circle cx="585.86" cy="81.86" r="2"/><circle cx="590.97" cy="84.64" r="2"/><circle cx="596.21" cy="72.11" r="2"/><circle cx="596.21" cy="84.53" r="2"/><circle cx="606.79" cy="78.21" r="2"/><circle cx="606.79" cy="81.86" r="2"/><circle cx="565.18" cy="84.28" r="2"/><circle cx="570.29" cy="89.76" r="2"/><circle cx="643.1" cy="40.49" r="2"/><circle cx="643.1" cy="48.14" r="2"/><circle cx="648.09" cy="49.01" r="2"/><circle cx="653.19" cy="49.01" r="2"/><circle cx="653.19" cy="50.56" r="2"/><circle cx="648.09" cy="54.82" r="2"/><circle cx="653.19" cy="58.1" r="2"/><circle cx="653.19" cy="64.2" r="2"/><circle cx="648.09" cy="65.43" r="2"/><circle cx="653.19" cy="68.1" r="2"/><circle cx="653.19" cy="69.69" r="2"/><circle cx="648.09" cy="71.75" r="2"/><circle cx="648.09" cy="76.37" r="2"/><circle cx="648.09" cy="83.66" r="2"/><circle cx="637.74" cy="86.48" r="2"/><circle cx="614.26" cy="55.68" r="2"/><circle cx="614.26" cy="81.24" r="2"/><circle cx="617.06" cy="83.66" r="2"/></g><path d="M497.4 96.51 L501.3 95.71 L505.2 94.9 L509.11 94.08 L513.01 93.25 L516.91 92.41 L520.81 91.56 L524.72 90.69 L528.62 89.81 L532.52 88.91 L536.42 88 L540.32 87.08 L544.23 86.15 L548.13 85.2 L552.03 84.24 L555.93 83.27 L559.83 82.3 L563.74 81.31 L567.64 80.32 L571.54 79.32 L575.44 78.31 L579.35 77.3 L583.25 76.29 L587.15 75.27 L591.05 74.24 L594.95 73.21 L598.86 72.18 L602.76 71.15 L606.66 70.12 L610.56 69.08 L614.46 68.04 L618.37 67 L622.27 65.96 L626.17 64.92 L630.07 63.87 L633.98 62.82 L637.88 61.78 L641.78 60.73 L645.68 59.68 L649.58 58.63 L653.49 57.58 L653.49 69.6 L649.58 70.33 L645.68 71.05 L641.78 71.78 L637.88 72.51 L633.98 73.24 L630.07 73.97 L626.17 74.7 L622.27 75.43 L618.37 76.16 L614.46 76.9 L610.56 77.64 L606.66 78.38 L602.76 79.12 L598.86 79.86 L594.95 80.61 L591.05 81.36 L587.15 82.11 L583.25 82.87 L579.35 83.63 L575.44 84.39 L571.54 85.16 L567.64 85.94 L563.74 86.72 L559.83 87.51 L555.93 88.31 L552.03 89.12 L548.13 89.94 L544.23 90.76 L540.32 91.61 L536.42 92.46 L532.52 93.33 L528.62 94.21 L524.72 95.1 L520.81 96.01 L516.91 96.93 L513.01 97.87 L509.11 98.82 L505.2 99.77 L501.3 100.74 L497.4 101.72Z" fill="#4C72B0" fill-opacity="0.17" clip-path="url(#c2)"/><path d="M497.4 99.11L653.49 63.59" stroke="#4C72B0" stroke-width="1.55" fill="none" clip-path="url(#c2)"/><text transform="translate(488.1 189.3) scale(1 1.06)" text-anchor="end" class="t">0.00</text><text transform="translate(488.1 153.2) scale(1 1.06)" text-anchor="end" class="t">0.01</text><text transform="translate(488.1 117.1) scale(1 1.06)" text-anchor="end" class="t">0.02</text><text transform="translate(488.1 81) scale(1 1.06)" text-anchor="end" class="t">0.03</text><text transform="translate(488.1 44.9) scale(1 1.06)" text-anchor="end" class="t">0.04</text><text transform="translate(488.1 8.8) scale(1 1.06)" text-anchor="end" class="t">0.05</text><text transform="translate(497.4 201.4) scale(1 1.06)" text-anchor="middle" class="t">0</text><text transform="translate(549.43 201.4) scale(1 1.06)" text-anchor="middle" class="t">10</text><text transform="translate(601.46 201.4) scale(1 1.06)" text-anchor="middle" class="t">20</text><text transform="translate(653.49 201.4) scale(1 1.06)" text-anchor="middle" class="t">30</text><text x="588.45" y="220" text-anchor="middle" class="l" letter-spacing="0.45">Migraine Days</text><text x="628.6" y="165.7" class="a"><tspan font-style="italic">r</tspan> = 0.403</text><text x="628.6" y="179.5" class="a"><tspan font-style="italic">p</tspan> &lt; 0.001</text><rect x="48.2" y="235.6" width="180.2" height="179.3" fill="#EAEAF2"/><path d="M77.83 236V414.5 M138.3 236V414.5 M198.77 236V414.5 M48.6 397.45H228 M48.6 361.35H228 M48.6 325.25H228 M48.6 289.15H228 M48.6 253.05H228" stroke="#fff" stroke-width="0.8" stroke-dasharray="1 2" fill="none"/><path d="M108.07 235.6V414.9 M168.53 235.6V414.9 M48.2 379.4H228.4 M48.2 343.3H228.4 M48.2 307.2H228.4 M48.2 271.1H228.4" stroke="#fff" stroke-width="1" fill="none"/><path d="M65.74 328.24 L68.91 327.65 L72.09 327.07 L75.26 326.48 L78.44 325.88 L81.61 325.29 L84.79 324.69 L87.96 324.08 L91.14 323.47 L94.31 322.85 L97.49 322.22 L100.66 321.59 L103.83 320.94 L107.01 320.28 L110.18 319.61 L113.36 318.92 L116.53 318.21 L119.71 317.48 L122.88 316.72 L126.06 315.95 L129.23 315.14 L132.4 314.31 L135.58 313.45 L138.75 312.57 L141.93 311.67 L145.1 310.74 L148.28 309.8 L151.45 308.83 L154.63 307.86 L157.8 306.87 L160.97 305.87 L164.15 304.86 L167.32 303.84 L170.5 302.82 L173.67 301.79 L176.85 300.76 L180.02 299.72 L183.2 298.68 L186.37 297.63 L189.55 296.58 L192.72 295.53 L192.72 307.25 L189.55 307.83 L186.37 308.42 L183.2 309.01 L180.02 309.6 L176.85 310.19 L173.67 310.8 L170.5 311.4 L167.32 312.01 L164.15 312.63 L160.97 313.26 L157.8 313.9 L154.63 314.54 L151.45 315.2 L148.28 315.88 L145.1 316.57 L141.93 317.27 L138.75 318 L135.58 318.76 L132.4 319.54 L129.23 320.34 L126.06 321.17 L122.88 322.03 L119.71 322.91 L116.53 323.82 L113.36 324.74 L110.18 325.69 L107.01 326.65 L103.83 327.62 L100.66 328.61 L97.49 329.61 L94.31 330.62 L91.14 331.64 L87.96 332.66 L84.79 333.69 L81.61 334.72 L78.44 335.76 L75.26 336.81 L72.09 337.85 L68.91 338.9 L65.74 339.95Z" fill="#EAEAF2" clip-path="url(#c3)"/><g fill="#4C72B0" fill-opacity="0.68"><circle cx="105.26" cy="272.29" r="2"/><circle cx="101.98" cy="279.01" r="2"/><circle cx="108.31" cy="282.04" r="2"/><circle cx="96.14" cy="291.79" r="2"/><circle cx="90.06" cy="296.05" r="2"/><circle cx="93.1" cy="300.88" r="2"/><circle cx="101.98" cy="302.47" r="2"/><circle cx="108.31" cy="297.6" r="2"/><circle cx="114.15" cy="294.82" r="2"/><circle cx="114.15" cy="298.82" r="2"/><circle cx="108.31" cy="305.76" r="2"/><circle cx="78.01" cy="301.75" r="2"/><circle cx="78.01" cy="304.93" r="2"/><circle cx="74.85" cy="305.39" r="2"/><circle cx="65.84" cy="306.98" r="2"/><circle cx="74.85" cy="310.99" r="2"/><circle cx="90.06" cy="312.69" r="2"/><circle cx="90.06" cy="315.5" r="2"/><circle cx="101.98" cy="314.89" r="2"/><circle cx="101.98" cy="317.56" r="2"/><circle cx="108.31" cy="313.66" r="2"/><circle cx="68.76" cy="317.71" r="2"/><circle cx="74.85" cy="319.15" r="2"/><circle cx="93.1" cy="319.15" r="2"/><circle cx="96.14" cy="318.79" r="2"/><circle cx="111.11" cy="318.28" r="2"/><circle cx="114.15" cy="318.54" r="2"/><circle cx="120.47" cy="281.06" r="2"/><circle cx="162.82" cy="279.62" r="2"/><circle cx="168.54" cy="278.64" r="2"/><circle cx="144.81" cy="284.71" r="2"/><circle cx="138.73" cy="285.94" r="2"/><circle cx="138.73" cy="288.1" r="2"/><circle cx="153.69" cy="285.94" r="2"/><circle cx="156.74" cy="286.66" r="2"/><circle cx="162.82" cy="285.43" r="2"/><circle cx="153.69" cy="289.94" r="2"/><circle cx="126.56" cy="289.33" r="2"/><circle cx="129.6" cy="293.23" r="2"/><circle cx="138.73" cy="293.23" r="2"/><circle cx="126.56" cy="296.05" r="2"/><circle cx="126.56" cy="297.24" r="2"/><circle cx="129.6" cy="300.52" r="2"/><circle cx="135.68" cy="302.11" r="2"/><circle cx="156.74" cy="297.85" r="2"/><circle cx="156.74" cy="302.11" r="2"/><circle cx="159.78" cy="301.5" r="2"/><circle cx="156.74" cy="304.93" r="2"/><circle cx="168.54" cy="297.85" r="2"/><circle cx="120.47" cy="304.53" r="2"/><circle cx="120.47" cy="306.98" r="2"/><circle cx="123.52" cy="308.79" r="2"/><circle cx="123.52" cy="311.5" r="2"/><circle cx="132.64" cy="308.79" r="2"/><circle cx="135.68" cy="306.37" r="2"/><circle cx="135.68" cy="311.86" r="2"/><circle cx="138.73" cy="310.63" r="2"/><circle cx="147.85" cy="308.79" r="2"/><circle cx="147.85" cy="311.86" r="2"/><circle cx="150.9" cy="310.02" r="2"/><circle cx="147.85" cy="313.66" r="2"/><circle cx="168.54" cy="306.37" r="2"/><circle cx="132.64" cy="314.89" r="2"/><circle cx="138.73" cy="315.5" r="2"/><circle cx="141.77" cy="314.89" r="2"/><circle cx="144.81" cy="314.28" r="2"/><circle cx="147.85" cy="317.31" r="2"/><circle cx="153.94" cy="314.28" r="2"/><circle cx="156.98" cy="314.28" r="2"/><circle cx="156.98" cy="317.92" r="2"/><circle cx="160.02" cy="316.73" r="2"/><circle cx="163.06" cy="311.86" r="2"/><circle cx="163.06" cy="316.12" r="2"/><circle cx="116.22" cy="318.54" r="2"/><circle cx="187.04" cy="271.1" r="2"/><circle cx="174.87" cy="279.37" r="2"/><circle cx="171.83" cy="285.43" r="2"/><circle cx="180.95" cy="288.72" r="2"/><circle cx="193.12" cy="296.05" r="2"/><circle cx="193.12" cy="299.69" r="2"/><circle cx="187.04" cy="298.82" r="2"/><circle cx="180.95" cy="300.05" r="2"/><circle cx="174.87" cy="302.72" r="2"/><circle cx="187.04" cy="311.86" r="2"/><circle cx="193.12" cy="312.22" r="2"/><circle cx="193.12" cy="315.14" r="2"/><circle cx="180.95" cy="314.28" r="2"/><circle cx="171.83" cy="314.89" r="2"/><circle cx="174.87" cy="317.09" r="2"/><circle cx="65.84" cy="324.64" r="2"/><circle cx="65.84" cy="327.06" r="2"/><circle cx="68.76" cy="324.64" r="2"/><circle cx="68.76" cy="327.06" r="2"/><circle cx="89.81" cy="321.82" r="2"/><circle cx="92.85" cy="322.69" r="2"/><circle cx="108.43" cy="321.46" r="2"/><circle cx="108.43" cy="324.64" r="2"/><circle cx="114.15" cy="325.47" r="2"/><circle cx="105.63" cy="326.69" r="2"/><circle cx="65.84" cy="333.99" r="2"/><circle cx="78.01" cy="330.34" r="2"/><circle cx="78.01" cy="333.37" r="2"/><circle cx="84.34" cy="331.57" r="2"/><circle cx="96.26" cy="330.34" r="2"/><circle cx="96.26" cy="332.76" r="2"/><circle cx="101.98" cy="331.93" r="2"/><circle cx="108.43" cy="331.57" r="2"/><circle cx="114.15" cy="332.76" r="2"/><circle cx="65.84" cy="340.09" r="2"/><circle cx="72.17" cy="338.25" r="2"/><circle cx="75.21" cy="336.44" r="2"/><circle cx="78.01" cy="336.44" r="2"/><circle cx="78.01" cy="339.47" r="2"/><circle cx="96.26" cy="339.47" r="2"/><circle cx="101.98" cy="337.99" r="2"/><circle cx="108.43" cy="338.86" r="2"/><circle cx="114.15" cy="337.63" r="2"/><circle cx="65.84" cy="345.54" r="2"/><circle cx="65.84" cy="348.61" r="2"/><circle cx="72.17" cy="341.89" r="2"/><circle cx="72.17" cy="348.61" r="2"/><circle cx="75.21" cy="343.73" r="2"/><circle cx="75.21" cy="349.22" r="2"/><circle cx="78.01" cy="345.54" r="2"/><circle cx="78.01" cy="349.22" r="2"/><circle cx="75.21" cy="346.15" r="2"/><circle cx="68.76" cy="352.25" r="2"/><circle cx="96.26" cy="345.79" r="2"/><circle cx="96.26" cy="351.03" r="2"/><circle cx="101.98" cy="342.87" r="2"/><circle cx="114.15" cy="344.96" r="2"/><circle cx="108.43" cy="352.61" r="2"/><circle cx="72.17" cy="355.9" r="2"/><circle cx="78.01" cy="353.08" r="2"/><circle cx="78.01" cy="359.91" r="2"/><circle cx="108.43" cy="364.78" r="2"/><circle cx="135.68" cy="321.82" r="2"/><circle cx="138.73" cy="321.82" r="2"/><circle cx="132.64" cy="325.47" r="2"/><circle cx="129.6" cy="327.31" r="2"/><circle cx="132.64" cy="329.11" r="2"/><circle cx="126.56" cy="329.47" r="2"/><circle cx="138.73" cy="329.11" r="2"/><circle cx="132.64" cy="332.76" r="2"/><circle cx="135.68" cy="331.93" r="2"/><circle cx="147.61" cy="323.66" r="2"/><circle cx="150.65" cy="323.66" r="2"/><circle cx="153.69" cy="323.66" r="2"/><circle cx="156.98" cy="320.59" r="2"/><circle cx="159.78" cy="321.82" r="2"/><circle cx="168.54" cy="325.47" r="2"/><circle cx="162.82" cy="329.47" r="2"/><circle cx="153.69" cy="331.57" r="2"/><circle cx="126.56" cy="338.86" r="2"/><circle cx="147.61" cy="337.63" r="2"/><circle cx="153.69" cy="340.92" r="2"/><circle cx="156.74" cy="338.86" r="2"/><circle cx="123.52" cy="345.54" r="2"/><circle cx="126.56" cy="346.51" r="2"/><circle cx="150.65" cy="345.54" r="2"/><circle cx="162.82" cy="346.15" r="2"/><circle cx="132.64" cy="352.25" r="2"/><circle cx="150.65" cy="351.03" r="2"/><circle cx="150.65" cy="351.89" r="2"/><circle cx="123.52" cy="363.55" r="2"/><circle cx="177.91" cy="331.57" r="2"/><circle cx="193.12" cy="328.28" r="2"/></g><path d="M65.74 328.24 L68.91 327.65 L72.09 327.07 L75.26 326.48 L78.44 325.88 L81.61 325.29 L84.79 324.69 L87.96 324.08 L91.14 323.47 L94.31 322.85 L97.49 322.22 L100.66 321.59 L103.83 320.94 L107.01 320.28 L110.18 319.61 L113.36 318.92 L116.53 318.21 L119.71 317.48 L122.88 316.72 L126.06 315.95 L129.23 315.14 L132.4 314.31 L135.58 313.45 L138.75 312.57 L141.93 311.67 L145.1 310.74 L148.28 309.8 L151.45 308.83 L154.63 307.86 L157.8 306.87 L160.97 305.87 L164.15 304.86 L167.32 303.84 L170.5 302.82 L173.67 301.79 L176.85 300.76 L180.02 299.72 L183.2 298.68 L186.37 297.63 L189.55 296.58 L192.72 295.53 L192.72 307.25 L189.55 307.83 L186.37 308.42 L183.2 309.01 L180.02 309.6 L176.85 310.19 L173.67 310.8 L170.5 311.4 L167.32 312.01 L164.15 312.63 L160.97 313.26 L157.8 313.9 L154.63 314.54 L151.45 315.2 L148.28 315.88 L145.1 316.57 L141.93 317.27 L138.75 318 L135.58 318.76 L132.4 319.54 L129.23 320.34 L126.06 321.17 L122.88 322.03 L119.71 322.91 L116.53 323.82 L113.36 324.74 L110.18 325.69 L107.01 326.65 L103.83 327.62 L100.66 328.61 L97.49 329.61 L94.31 330.62 L91.14 331.64 L87.96 332.66 L84.79 333.69 L81.61 334.72 L78.44 335.76 L75.26 336.81 L72.09 337.85 L68.91 338.9 L65.74 339.95Z" fill="#4C72B0" fill-opacity="0.17" clip-path="url(#c3)"/><path d="M65.74 334.09L192.72 301.39" stroke="#4C72B0" stroke-width="1.55" fill="none" clip-path="url(#c3)"/><text transform="translate(38.3 419.3) scale(1 1.06)" text-anchor="end" class="t">0.00</text><text transform="translate(38.3 383.2) scale(1 1.06)" text-anchor="end" class="t">0.01</text><text transform="translate(38.3 347.1) scale(1 1.06)" text-anchor="end" class="t">0.02</text><text transform="translate(38.3 311) scale(1 1.06)" text-anchor="end" class="t">0.03</text><text transform="translate(38.3 274.9) scale(1 1.06)" text-anchor="end" class="t">0.04</text><text transform="translate(38.3 238.8) scale(1 1.06)" text-anchor="end" class="t">0.05</text><text transform="translate(47.6 432.3) scale(1 1.06)" text-anchor="middle" class="t">30</text><text transform="translate(108.07 432.3) scale(1 1.06)" text-anchor="middle" class="t">50</text><text transform="translate(168.53 432.3) scale(1 1.06)" text-anchor="middle" class="t">70</text><text transform="translate(229 432.3) scale(1 1.06)" text-anchor="middle" class="t">90</text><text x="139.3" y="450.8" text-anchor="middle" class="l" letter-spacing="0.35">HIT-6</text><text x="178.1" y="396.6" class="a"><tspan font-style="italic">r</tspan> = 0.423</text><text x="178.1" y="410.6" class="a"><tspan font-style="italic">p</tspan> &lt; 0.001</text><rect x="270.6" y="235.6" width="180.8" height="179.3" fill="#EAEAF2"/><path d="M292.75 236V414.5 M338.25 236V414.5 M383.75 236V414.5 M429.25 236V414.5 M271 397.45H451 M271 361.35H451 M271 325.25H451 M271 289.15H451 M271 253.05H451" stroke="#fff" stroke-width="0.8" stroke-dasharray="1 2" fill="none"/><path d="M315.5 235.6V414.9 M361 235.6V414.9 M406.5 235.6V414.9 M270.6 379.4H451.4 M270.6 343.3H451.4 M270.6 307.2H451.4 M270.6 271.1H451.4" stroke="#fff" stroke-width="1" fill="none"/><path d="M270 327.37 L273.98 325.56 L277.96 323.72 L281.94 321.85 L285.93 319.94 L289.91 317.96 L293.89 315.93 L297.87 313.82 L301.85 311.63 L305.83 309.37 L309.81 307.05 L313.79 304.68 L317.77 302.27 L321.76 299.83 L325.74 297.36 L329.72 294.87 L333.7 292.37 L337.68 289.85 L341.66 287.33 L345.64 284.8 L349.62 282.27 L353.61 279.73 L357.59 277.18 L361.57 274.63 L365.55 272.08 L369.53 269.53 L373.51 266.97 L377.49 264.42 L381.48 261.86 L385.46 259.3 L389.44 256.74 L393.42 254.17 L397.4 251.61 L401.38 249.05 L405.36 246.48 L409.34 243.92 L413.32 241.35 L417.31 238.78 L421.29 236.22 L425.27 233.65 L429.25 231.08 L429.25 260.51 L425.27 262.21 L421.29 263.92 L417.31 265.63 L413.32 267.34 L409.34 269.04 L405.36 270.75 L401.38 272.46 L397.4 274.17 L393.42 275.88 L389.44 277.59 L385.46 279.31 L381.48 281.02 L377.49 282.74 L373.51 284.45 L369.53 286.17 L365.55 287.89 L361.57 289.62 L357.59 291.34 L353.61 293.07 L349.62 294.81 L345.64 296.54 L341.66 298.29 L337.68 300.04 L333.7 301.8 L329.72 303.57 L325.74 305.36 L321.76 307.17 L317.77 309 L313.79 310.86 L309.81 312.76 L305.83 314.71 L301.85 316.73 L297.87 318.82 L293.89 320.98 L289.91 323.22 L285.93 325.53 L281.94 327.88 L277.96 330.29 L273.98 332.72 L270 335.18Z" fill="#EAEAF2" clip-path="url(#c4)"/><g fill="#4C72B0" fill-opacity="0.68"><circle cx="281.49" cy="272.29" r="2"/><circle cx="281.49" cy="279.04" r="2"/><circle cx="281.49" cy="284.96" r="2"/><circle cx="281.49" cy="289.37" r="2"/><circle cx="290.78" cy="281.86" r="2"/><circle cx="301.84" cy="286.12" r="2"/><circle cx="305.38" cy="288.25" r="2"/><circle cx="290.6" cy="293.37" r="2"/><circle cx="297.42" cy="293.37" r="2"/><circle cx="281.49" cy="296.19" r="2"/><circle cx="288.12" cy="298.39" r="2"/><circle cx="292.55" cy="298.86" r="2"/><circle cx="295.2" cy="297.96" r="2"/><circle cx="297.42" cy="296.91" r="2"/><circle cx="301.84" cy="298.39" r="2"/><circle cx="301.84" cy="301.5" r="2"/><circle cx="304.05" cy="302.83" r="2"/><circle cx="277.06" cy="301.5" r="2"/><circle cx="281.49" cy="301.06" r="2"/><circle cx="283.7" cy="302.4" r="2"/><circle cx="285.91" cy="300.63" r="2"/><circle cx="285.91" cy="304.17" r="2"/><circle cx="279.28" cy="304.6" r="2"/><circle cx="281.49" cy="306.37" r="2"/><circle cx="274.85" cy="305.5" r="2"/><circle cx="269.98" cy="306.8" r="2"/><circle cx="292.55" cy="306.37" r="2"/><circle cx="295.2" cy="308.14" r="2"/><circle cx="299.63" cy="308.57" r="2"/><circle cx="305.38" cy="309.91" r="2"/><circle cx="274.85" cy="310.81" r="2"/><circle cx="277.06" cy="313.45" r="2"/><circle cx="279.28" cy="315.21" r="2"/><circle cx="285.91" cy="311.24" r="2"/><circle cx="288.57" cy="312.58" r="2"/><circle cx="290.78" cy="311.68" r="2"/><circle cx="290.78" cy="313.88" r="2"/><circle cx="292.99" cy="310.34" r="2"/><circle cx="292.99" cy="314.35" r="2"/><circle cx="295.2" cy="312.11" r="2"/><circle cx="297.42" cy="313.45" r="2"/><circle cx="295.2" cy="316.12" r="2"/><circle cx="269.98" cy="319.22" r="2"/><circle cx="272.2" cy="317.42" r="2"/><circle cx="274.85" cy="318.32" r="2"/><circle cx="277.06" cy="320.09" r="2"/><circle cx="279.28" cy="316.55" r="2"/><circle cx="281.49" cy="319.22" r="2"/><circle cx="283.7" cy="320.52" r="2"/><circle cx="288.57" cy="319.22" r="2"/><circle cx="290.78" cy="316.55" r="2"/><circle cx="292.99" cy="317.42" r="2"/><circle cx="295.2" cy="319.22" r="2"/><circle cx="297.42" cy="318.32" r="2"/><circle cx="301.84" cy="318.32" r="2"/><circle cx="304.05" cy="316.55" r="2"/><circle cx="269.98" cy="324.53" r="2"/><circle cx="272.2" cy="322.76" r="2"/><circle cx="274.85" cy="324.53" r="2"/><circle cx="277.06" cy="324.96" r="2"/><circle cx="279.28" cy="323.19" r="2"/><circle cx="281.49" cy="326.3" r="2"/><circle cx="283.7" cy="324.53" r="2"/><circle cx="285.91" cy="323.19" r="2"/><circle cx="288.12" cy="321.86" r="2"/><circle cx="290.78" cy="321.86" r="2"/><circle cx="292.55" cy="324.96" r="2"/><circle cx="297.42" cy="323.63" r="2"/><circle cx="301.84" cy="322.29" r="2"/><circle cx="304.05" cy="320.09" r="2"/><circle cx="272.2" cy="328.07" r="2"/><circle cx="274.85" cy="328.93" r="2"/><circle cx="279.28" cy="328.93" r="2"/><circle cx="283.7" cy="328.07" r="2"/><circle cx="288.12" cy="327.16" r="2"/><circle cx="290.78" cy="328.93" r="2"/><circle cx="295.2" cy="327.16" r="2"/><circle cx="271.31" cy="331.31" r="2"/><circle cx="273.97" cy="330.88" r="2"/><circle cx="276.62" cy="331.78" r="2"/><circle cx="280.16" cy="331.31" r="2"/><circle cx="282.82" cy="331.78" r="2"/><circle cx="271.31" cy="333.99" r="2"/><circle cx="274.85" cy="333.55" r="2"/><circle cx="278.39" cy="333.55" r="2"/><circle cx="281.93" cy="333.08" r="2"/><circle cx="288.57" cy="330.16" r="2"/><circle cx="294.32" cy="330.16" r="2"/><circle cx="272.2" cy="338.86" r="2"/><circle cx="274.85" cy="337.09" r="2"/><circle cx="277.51" cy="338.39" r="2"/><circle cx="280.16" cy="337.96" r="2"/><circle cx="281.93" cy="338.86" r="2"/><circle cx="288.12" cy="338.86" r="2"/><circle cx="290.78" cy="338.39" r="2"/><circle cx="292.99" cy="338.86" r="2"/><circle cx="290.34" cy="341.06" r="2"/><circle cx="272.2" cy="342.4" r="2"/><circle cx="274.85" cy="341.5" r="2"/><circle cx="277.51" cy="341.5" r="2"/><circle cx="279.28" cy="343.26" r="2"/><circle cx="272.64" cy="345.03" r="2"/><circle cx="275.74" cy="344.6" r="2"/><circle cx="278.39" cy="345.03" r="2"/><circle cx="283.7" cy="345.94" r="2"/><circle cx="290.34" cy="345.5" r="2"/><circle cx="269.54" cy="348.14" r="2"/><circle cx="272.2" cy="348.57" r="2"/><circle cx="274.85" cy="347.7" r="2"/><circle cx="277.51" cy="348.57" r="2"/><circle cx="272.2" cy="352.11" r="2"/><circle cx="274.85" cy="351.24" r="2"/><circle cx="279.72" cy="352.58" r="2"/><circle cx="281.93" cy="352.83" r="2"/><circle cx="274.85" cy="356.12" r="2"/><circle cx="279.28" cy="359.65" r="2"/><circle cx="276.62" cy="363.44" r="2"/><circle cx="279.28" cy="364.71" r="2"/><circle cx="326.93" cy="270.92" r="2"/><circle cx="319.99" cy="278.83" r="2"/><circle cx="338.25" cy="279.44" r="2"/><circle cx="349.8" cy="279.44" r="2"/><circle cx="356.5" cy="278.61" r="2"/><circle cx="315.49" cy="285.54" r="2"/><circle cx="318.17" cy="285.54" r="2"/><circle cx="329.12" cy="286.51" r="2"/><circle cx="333.99" cy="289.91" r="2"/><circle cx="309.04" cy="291.97" r="2"/><circle cx="311.48" cy="295.65" r="2"/><circle cx="313.91" cy="296.84" r="2"/><circle cx="316.34" cy="296.01" r="2"/><circle cx="310.87" cy="299.29" r="2"/><circle cx="313.3" cy="299.87" r="2"/><circle cx="308.43" cy="302.58" r="2"/><circle cx="313.3" cy="302.33" r="2"/><circle cx="318.17" cy="299.66" r="2"/><circle cx="322.43" cy="301.71" r="2"/><circle cx="324.86" cy="298.07" r="2"/><circle cx="306.61" cy="309.87" r="2"/><circle cx="308.43" cy="314.13" r="2"/><circle cx="310.87" cy="316.55" r="2"/><circle cx="313.3" cy="312.29" r="2"/><circle cx="318.17" cy="312.29" r="2"/><circle cx="320.36" cy="314.74" r="2"/><circle cx="318.17" cy="317.16" r="2"/><circle cx="309.04" cy="331.17" r="2"/><circle cx="318.17" cy="328.1" r="2"/><circle cx="318.17" cy="331.53" r="2"/><circle cx="309.04" cy="351.86" r="2"/><circle cx="309.65" cy="307.42" r="2"/><circle cx="372.49" cy="281.21" r="2"/><circle cx="372.49" cy="288.64" r="2"/><circle cx="372.49" cy="313.41" r="2"/><circle cx="429.3" cy="286.01" r="2"/></g><path d="M270 327.37 L273.98 325.56 L277.96 323.72 L281.94 321.85 L285.93 319.94 L289.91 317.96 L293.89 315.93 L297.87 313.82 L301.85 311.63 L305.83 309.37 L309.81 307.05 L313.79 304.68 L317.77 302.27 L321.76 299.83 L325.74 297.36 L329.72 294.87 L333.7 292.37 L337.68 289.85 L341.66 287.33 L345.64 284.8 L349.62 282.27 L353.61 279.73 L357.59 277.18 L361.57 274.63 L365.55 272.08 L369.53 269.53 L373.51 266.97 L377.49 264.42 L381.48 261.86 L385.46 259.3 L389.44 256.74 L393.42 254.17 L397.4 251.61 L401.38 249.05 L405.36 246.48 L409.34 243.92 L413.32 241.35 L417.31 238.78 L421.29 236.22 L425.27 233.65 L429.25 231.08 L429.25 260.51 L425.27 262.21 L421.29 263.92 L417.31 265.63 L413.32 267.34 L409.34 269.04 L405.36 270.75 L401.38 272.46 L397.4 274.17 L393.42 275.88 L389.44 277.59 L385.46 279.31 L381.48 281.02 L377.49 282.74 L373.51 284.45 L369.53 286.17 L365.55 287.89 L361.57 289.62 L357.59 291.34 L353.61 293.07 L349.62 294.81 L345.64 296.54 L341.66 298.29 L337.68 300.04 L333.7 301.8 L329.72 303.57 L325.74 305.36 L321.76 307.17 L317.77 309 L313.79 310.86 L309.81 312.76 L305.83 314.71 L301.85 316.73 L297.87 318.82 L293.89 320.98 L289.91 323.22 L285.93 325.53 L281.94 327.88 L277.96 330.29 L273.98 332.72 L270 335.18Z" fill="#4C72B0" fill-opacity="0.17" clip-path="url(#c4)"/><path d="M270 331.28L429.25 245.79" stroke="#4C72B0" stroke-width="1.55" fill="none" clip-path="url(#c4)"/><text transform="translate(260.7 419.3) scale(1 1.06)" text-anchor="end" class="t">0.00</text><text transform="translate(260.7 383.2) scale(1 1.06)" text-anchor="end" class="t">0.01</text><text transform="translate(260.7 347.1) scale(1 1.06)" text-anchor="end" class="t">0.02</text><text transform="translate(260.7 311) scale(1 1.06)" text-anchor="end" class="t">0.03</text><text transform="translate(260.7 274.9) scale(1 1.06)" text-anchor="end" class="t">0.04</text><text transform="translate(260.7 238.8) scale(1 1.06)" text-anchor="end" class="t">0.05</text><text transform="translate(270 432.3) scale(1 1.06)" text-anchor="middle" class="t">0</text><text transform="translate(315.5 432.3) scale(1 1.06)" text-anchor="middle" class="t">20</text><text transform="translate(361 432.3) scale(1 1.06)" text-anchor="middle" class="t">40</text><text transform="translate(406.5 432.3) scale(1 1.06)" text-anchor="middle" class="t">60</text><text transform="translate(452 432.3) scale(1 1.06)" text-anchor="middle" class="t">80</text><text x="362" y="450.8" text-anchor="middle" class="l" letter-spacing="0.45">MIDAS</text><text x="401.1" y="396.6" class="a"><tspan font-style="italic">r</tspan> = 0.605</text><text x="401.1" y="410.6" class="a"><tspan font-style="italic">p</tspan> &lt; 0.001</text><rect x="498" y="235.6" width="180.9" height="179.3" fill="#EAEAF2"/><path d="M520.16 236V414.5 M565.69 236V414.5 M611.21 236V414.5 M656.74 236V414.5 M498.4 397.45H678.5 M498.4 361.35H678.5 M498.4 325.25H678.5 M498.4 289.15H678.5 M498.4 253.05H678.5" stroke="#fff" stroke-width="0.8" stroke-dasharray="1 2" fill="none"/><path d="M542.92 235.6V414.9 M588.45 235.6V414.9 M633.98 235.6V414.9 M498 379.4H678.9 M498 343.3H678.9 M498 307.2H678.9 M498 271.1H678.9" stroke="#fff" stroke-width="1" fill="none"/><path d="M497.4 329.15 L501.5 328.39 L505.59 327.62 L509.69 326.85 L513.79 326.08 L517.89 325.3 L521.98 324.52 L526.08 323.72 L530.18 322.92 L534.28 322.11 L538.37 321.29 L542.47 320.46 L546.57 319.61 L550.66 318.74 L554.76 317.87 L558.86 316.97 L562.96 316.06 L567.05 315.13 L571.15 314.18 L575.25 313.21 L579.35 312.24 L583.44 311.24 L587.54 310.24 L591.64 309.22 L595.73 308.19 L599.83 307.16 L603.93 306.12 L608.03 305.07 L612.12 304.01 L616.22 302.95 L620.32 301.89 L624.41 300.82 L628.51 299.75 L632.61 298.68 L636.71 297.61 L640.8 296.53 L644.9 295.45 L649 294.37 L653.1 293.28 L657.19 292.2 L661.29 291.11 L661.29 301.12 L657.19 301.86 L653.1 302.61 L649 303.35 L644.9 304.1 L640.8 304.85 L636.71 305.6 L632.61 306.35 L628.51 307.11 L624.41 307.87 L620.32 308.63 L616.22 309.39 L612.12 310.16 L608.03 310.94 L603.93 311.72 L599.83 312.5 L595.73 313.3 L591.64 314.1 L587.54 314.91 L583.44 315.73 L579.35 316.57 L575.25 317.42 L571.15 318.28 L567.05 319.16 L562.96 320.06 L558.86 320.98 L554.76 321.91 L550.66 322.86 L546.57 323.82 L542.47 324.81 L538.37 325.8 L534.28 326.81 L530.18 327.82 L526.08 328.85 L521.98 329.89 L517.89 330.93 L513.79 331.98 L509.69 333.03 L505.59 334.09 L501.5 335.16 L497.4 336.23Z" fill="#EAEAF2" clip-path="url(#c5)"/><g fill="#4C72B0" fill-opacity="0.68"><circle cx="497.4" cy="305.21" r="2"/><circle cx="497.4" cy="316.77" r="2"/><circle cx="506.5" cy="307.02" r="2"/><circle cx="506.5" cy="310.92" r="2"/><circle cx="515.61" cy="286.59" r="2"/><circle cx="515.61" cy="296.08" r="2"/><circle cx="515.61" cy="301.53" r="2"/><circle cx="515.61" cy="304.6" r="2"/><circle cx="515.61" cy="312.87" r="2"/><circle cx="524.72" cy="297.89" r="2"/><circle cx="524.72" cy="300.95" r="2"/><circle cx="533.82" cy="284.75" r="2"/><circle cx="533.82" cy="297.67" r="2"/><circle cx="533.82" cy="305.58" r="2"/><circle cx="533.82" cy="311.28" r="2"/><circle cx="533.82" cy="313.7" r="2"/><circle cx="533.82" cy="315.54" r="2"/><circle cx="542.92" cy="278.79" r="2"/><circle cx="542.92" cy="281.21" r="2"/><circle cx="542.92" cy="308.25" r="2"/><circle cx="542.92" cy="310.05" r="2"/><circle cx="542.92" cy="314.56" r="2"/><circle cx="552.03" cy="272.33" r="2"/><circle cx="552.03" cy="289.37" r="2"/><circle cx="552.03" cy="293.27" r="2"/><circle cx="552.03" cy="315.54" r="2"/><circle cx="561.13" cy="298.5" r="2"/><circle cx="561.13" cy="301.93" r="2"/><circle cx="561.13" cy="304.35" r="2"/><circle cx="561.13" cy="310.92" r="2"/><circle cx="561.13" cy="312.15" r="2"/><circle cx="570.24" cy="281.71" r="2"/><circle cx="570.24" cy="286.08" r="2"/><circle cx="570.24" cy="288.18" r="2"/><circle cx="570.24" cy="299.98" r="2"/><circle cx="570.24" cy="301.17" r="2"/><circle cx="570.24" cy="306.41" r="2"/><circle cx="570.24" cy="308.86" r="2"/><circle cx="570.24" cy="313.12" r="2"/><circle cx="570.24" cy="315.54" r="2"/><circle cx="579.35" cy="289.73" r="2"/><circle cx="579.35" cy="298.03" r="2"/><circle cx="588.45" cy="293.16" r="2"/><circle cx="588.45" cy="298.75" r="2"/><circle cx="588.45" cy="316.15" r="2"/><circle cx="597.55" cy="302.51" r="2"/><circle cx="597.55" cy="314.31" r="2"/><circle cx="606.66" cy="294.85" r="2"/><circle cx="606.66" cy="315.54" r="2"/><circle cx="615.76" cy="312.47" r="2"/><circle cx="624.87" cy="278.43" r="2"/><circle cx="624.87" cy="280.02" r="2"/><circle cx="624.87" cy="285.72" r="2"/><circle cx="624.87" cy="291.79" r="2"/><circle cx="624.87" cy="296.05" r="2"/><circle cx="624.87" cy="297.89" r="2"/><circle cx="624.87" cy="299.11" r="2"/><circle cx="624.87" cy="308.21" r="2"/><circle cx="624.87" cy="310.05" r="2"/><circle cx="624.87" cy="311.64" r="2"/><circle cx="624.87" cy="316.12" r="2"/><circle cx="643.08" cy="278.79" r="2"/><circle cx="643.08" cy="302.15" r="2"/><circle cx="643.08" cy="313.7" r="2"/><circle cx="643.08" cy="314.93" r="2"/><circle cx="643.08" cy="316.12" r="2"/><circle cx="652.18" cy="302.4" r="2"/><circle cx="661.29" cy="271.14" r="2"/><circle cx="661.29" cy="288.5" r="2"/><circle cx="661.29" cy="295.83" r="2"/><circle cx="661.29" cy="300.3" r="2"/><circle cx="661.29" cy="302.15" r="2"/><circle cx="661.29" cy="304.56" r="2"/><circle cx="661.29" cy="306.41" r="2"/><circle cx="661.29" cy="307.63" r="2"/><circle cx="661.29" cy="311.86" r="2"/><circle cx="661.29" cy="314.31" r="2"/><circle cx="497.4" cy="323.08" r="2"/><circle cx="497.4" cy="325.5" r="2"/><circle cx="497.4" cy="332.83" r="2"/><circle cx="497.4" cy="334.02" r="2"/><circle cx="497.4" cy="338.9" r="2"/><circle cx="497.4" cy="344.38" r="2"/><circle cx="497.4" cy="346.8" r="2"/><circle cx="497.4" cy="349.26" r="2"/><circle cx="497.4" cy="352.29" r="2"/><circle cx="506.5" cy="327.34" r="2"/><circle cx="506.5" cy="337.67" r="2"/><circle cx="506.5" cy="341.93" r="2"/><circle cx="506.5" cy="345.61" r="2"/><circle cx="506.5" cy="347.42" r="2"/><circle cx="506.5" cy="349.87" r="2"/><circle cx="515.61" cy="319.44" r="2"/><circle cx="515.61" cy="322.47" r="2"/><circle cx="515.61" cy="327.34" r="2"/><circle cx="515.61" cy="329.76" r="2"/><circle cx="515.61" cy="331.6" r="2"/><circle cx="515.61" cy="337.09" r="2"/><circle cx="515.61" cy="339.51" r="2"/><circle cx="515.61" cy="342.54" r="2"/><circle cx="515.61" cy="345.61" r="2"/><circle cx="515.61" cy="348.64" r="2"/><circle cx="515.61" cy="351.06" r="2"/><circle cx="515.61" cy="353.52" r="2"/><circle cx="515.61" cy="355.94" r="2"/><circle cx="515.61" cy="359.58" r="2"/><circle cx="515.61" cy="363.48" r="2"/><circle cx="524.72" cy="319.44" r="2"/><circle cx="524.72" cy="321.86" r="2"/><circle cx="524.72" cy="324.31" r="2"/><circle cx="524.72" cy="326.12" r="2"/><circle cx="524.72" cy="332.83" r="2"/><circle cx="524.72" cy="339.51" r="2"/><circle cx="524.72" cy="345.61" r="2"/><circle cx="524.72" cy="348.03" r="2"/><circle cx="524.72" cy="352.29" r="2"/><circle cx="533.82" cy="318.82" r="2"/><circle cx="533.82" cy="323.08" r="2"/><circle cx="533.82" cy="326.12" r="2"/><circle cx="533.82" cy="329.18" r="2"/><circle cx="533.82" cy="338.28" r="2"/><circle cx="533.82" cy="341.35" r="2"/><circle cx="533.82" cy="345" r="2"/><circle cx="533.82" cy="352.29" r="2"/><circle cx="542.92" cy="325.5" r="2"/><circle cx="542.92" cy="329.18" r="2"/><circle cx="542.92" cy="332.22" r="2"/><circle cx="552.03" cy="321.86" r="2"/><circle cx="552.03" cy="325.5" r="2"/><circle cx="552.03" cy="329.18" r="2"/><circle cx="552.03" cy="332.83" r="2"/><circle cx="552.03" cy="337.67" r="2"/><circle cx="552.03" cy="338.9" r="2"/><circle cx="552.03" cy="346.44" r="2"/><circle cx="552.03" cy="364.71" r="2"/><circle cx="561.13" cy="320.67" r="2"/><circle cx="570.24" cy="318.82" r="2"/><circle cx="570.24" cy="321.24" r="2"/><circle cx="570.24" cy="325.5" r="2"/><circle cx="570.24" cy="328.57" r="2"/><circle cx="570.24" cy="331.6" r="2"/><circle cx="588.45" cy="317.6" r="2"/><circle cx="588.45" cy="338.9" r="2"/><circle cx="606.66" cy="321.03" r="2"/><circle cx="606.66" cy="331.35" r="2"/><circle cx="624.87" cy="331.6" r="2"/><circle cx="661.29" cy="323.7" r="2"/><circle cx="661.29" cy="328.32" r="2"/></g><path d="M497.4 329.15 L501.5 328.39 L505.59 327.62 L509.69 326.85 L513.79 326.08 L517.89 325.3 L521.98 324.52 L526.08 323.72 L530.18 322.92 L534.28 322.11 L538.37 321.29 L542.47 320.46 L546.57 319.61 L550.66 318.74 L554.76 317.87 L558.86 316.97 L562.96 316.06 L567.05 315.13 L571.15 314.18 L575.25 313.21 L579.35 312.24 L583.44 311.24 L587.54 310.24 L591.64 309.22 L595.73 308.19 L599.83 307.16 L603.93 306.12 L608.03 305.07 L612.12 304.01 L616.22 302.95 L620.32 301.89 L624.41 300.82 L628.51 299.75 L632.61 298.68 L636.71 297.61 L640.8 296.53 L644.9 295.45 L649 294.37 L653.1 293.28 L657.19 292.2 L661.29 291.11 L661.29 301.12 L657.19 301.86 L653.1 302.61 L649 303.35 L644.9 304.1 L640.8 304.85 L636.71 305.6 L632.61 306.35 L628.51 307.11 L624.41 307.87 L620.32 308.63 L616.22 309.39 L612.12 310.16 L608.03 310.94 L603.93 311.72 L599.83 312.5 L595.73 313.3 L591.64 314.1 L587.54 314.91 L583.44 315.73 L579.35 316.57 L575.25 317.42 L571.15 318.28 L567.05 319.16 L562.96 320.06 L558.86 320.98 L554.76 321.91 L550.66 322.86 L546.57 323.82 L542.47 324.81 L538.37 325.8 L534.28 326.81 L530.18 327.82 L526.08 328.85 L521.98 329.89 L517.89 330.93 L513.79 331.98 L509.69 333.03 L505.59 334.09 L501.5 335.16 L497.4 336.23Z" fill="#4C72B0" fill-opacity="0.17" clip-path="url(#c5)"/><path d="M497.4 332.69L661.29 296.12" stroke="#4C72B0" stroke-width="1.55" fill="none" clip-path="url(#c5)"/><text transform="translate(488.1 419.3) scale(1 1.06)" text-anchor="end" class="t">0.00</text><text transform="translate(488.1 383.2) scale(1 1.06)" text-anchor="end" class="t">0.01</text><text transform="translate(488.1 347.1) scale(1 1.06)" text-anchor="end" class="t">0.02</text><text transform="translate(488.1 311) scale(1 1.06)" text-anchor="end" class="t">0.03</text><text transform="translate(488.1 274.9) scale(1 1.06)" text-anchor="end" class="t">0.04</text><text transform="translate(488.1 238.8) scale(1 1.06)" text-anchor="end" class="t">0.05</text><text transform="translate(497.4 432.3) scale(1 1.06)" text-anchor="middle" class="t">0</text><text transform="translate(542.92 432.3) scale(1 1.06)" text-anchor="middle" class="t">5</text><text transform="translate(588.45 432.3) scale(1 1.06)" text-anchor="middle" class="t">10</text><text transform="translate(633.98 432.3) scale(1 1.06)" text-anchor="middle" class="t">15</text><text transform="translate(679.5 432.3) scale(1 1.06)" text-anchor="middle" class="t">20</text><text x="589.45" y="450.8" text-anchor="middle" class="l" letter-spacing="0.45">PSQI</text><text x="628.6" y="396.6" class="a"><tspan font-style="italic">r</tspan> = 0.428</text><text x="628.6" y="410.6" class="a"><tspan font-style="italic">p</tspan> &lt; 0.001</text><text transform="translate(10.3 96.75) rotate(-90)" text-anchor="middle" class="l" letter-spacing="0.25">QSM value in NAC (ppm)</text><text transform="translate(10.3 326.75) rotate(-90)" text-anchor="middle" class="l" letter-spacing="0.25">QSM value in NAC (ppm)</text></svg>
</body></html>
